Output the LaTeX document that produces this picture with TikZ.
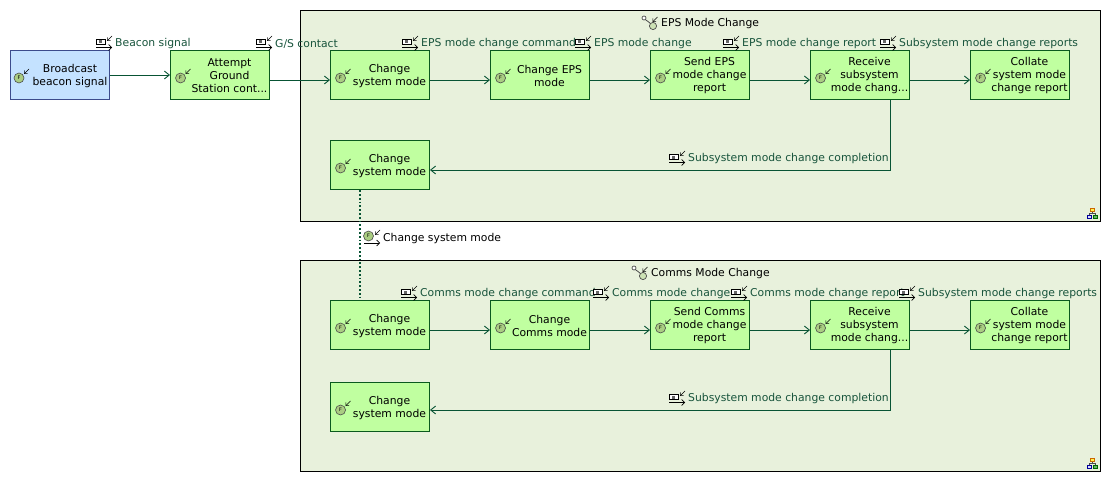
\documentclass[tikz,border=0pt]{standalone}
\usepackage{fontspec}
\setmainfont{DejaVu Sans}
\usepackage{tikz}
\usetikzlibrary{arrows.meta, calc}

\definecolor{flowgreen}{RGB}{8,84,52}
\definecolor{labelgreen}{RGB}{24,84,60}
\definecolor{boxgreen}{RGB}{192,255,160}
\definecolor{boxline}{RGB}{10,90,30}
\definecolor{boxblue}{RGB}{196,226,255}
\definecolor{blueline}{RGB}{60,76,140}
\definecolor{regionfill}{RGB}{232,241,220}
\definecolor{iconfill}{RGB}{170,205,130}

\tikzset{
    smalltip/.style={-{Straight Barb[length=2.4pt,width=4.4pt]}},
    fnbox/.style={draw=boxline, fill=boxgreen, line width=0.9pt, minimum width=99pt, minimum height=49.5pt, inner sep=0pt},
    blueboxstyle/.style={fnbox, draw=blueline, fill=boxblue},
    boxtext/.style={align=center, inner sep=0pt, font=\fontsize{10.8}{13}\selectfont},
    region/.style={draw=black, fill=regionfill, line width=0.9pt, minimum width=800pt, minimum height=211pt, inner sep=0pt},
    exlabel/.style={anchor=west, inner sep=0pt, yshift=-1.5pt, text=labelgreen, font=\fontsize{10.8}{13}\selectfont},
    blacklabel/.style={anchor=west, inner sep=0pt, yshift=-1.5pt, font=\fontsize{10.8}{13}\selectfont},
    flow/.style={-{Straight Barb[length=5pt,width=8pt]}, draw=flowgreen, line width=0.9pt},
    fnicon/.pic={
        \draw[black!70, fill=iconfill, line width=0.6pt] (0,0) circle (5);
        \node[inner sep=0pt, font=\fontsize{5}{5}\selectfont] at (0,0) {F};
        \draw[smalltip, black, line width=0.5pt] (10,-9) -- (5,-4);
    },
    exicon/.pic={
        \draw[black, fill=white, line width=0.6pt] (0,-2.5) rectangle (9,2.5);
        \fill[black!60] (3,-1.5) rectangle (6,1.5);
        \draw[smalltip, black, line width=0.5pt] (16,-6) -- (11,-1);
        \draw[-{Straight Barb[length=3pt,width=6pt]}, black, line width=0.6pt] (0,5.5) -- (16,5.5);
    },
    fxicon/.pic={
        \draw[black!70, fill=iconfill, line width=0.6pt] (4.5,-1) circle (5);
        \node[inner sep=0pt, font=\fontsize{5}{5}\selectfont] at (4.5,-1) {F};
        \draw[smalltip, black, line width=0.5pt] (16,-7) -- (11,-2);
        \draw[-{Straight Barb[length=3pt,width=6pt]}, black, line width=0.6pt] (0,6) -- (16,6);
    },
    scicon/.pic={
        \draw[black!70, line width=0.8pt] (2,1) .. controls (5,5) and (7,4) .. (9,7);
        \draw[black!70, fill=white, line width=0.7pt] (2,1) circle (2);
        \draw[black!70, fill=iconfill!60, line width=0.7pt] (11,9) circle (3.6);
        \draw[smalltip, black, line width=0.5pt] (15.5,0) -- (10.5,5);
    },
    treeicon/.pic={
        \draw[black!70, line width=0.5pt] (5.5,3) -- (5.5,5.5) (2.5,7) -- (2.5,5.5) -- (8.5,5.5) -- (8.5,7);
        \draw[orange!80!black, fill=yellow!70, line width=0.6pt] (3.5,0) rectangle (7.5,3);
        \draw[blue!60!black, fill=blue!15, line width=0.6pt] (0.5,7) rectangle (4.5,10);
        \draw[green!40!black, fill=green!50!black!60, line width=0.6pt] (6.5,7) rectangle (10.5,10);
    },
}

\begin{document}
\begin{tikzpicture}[x=1pt, y=-1pt]
    \useasboundingbox (0,0) rectangle (1113,484);

    \node[region] (epsregion) at (700.5,116) {};
    \node[region] (commsregion) at (700.5,366) {};

    % titles of the two regions
    \pic at (642,17) {scicon};
    \node[blacklabel] (epstitle) at (661,22) {EPS Mode Change};
    \pic at (632,267) {scicon};
    \node[blacklabel] (commstitle) at (651,272) {Comms Mode Change};
    \pic at (1087,208) {treeicon};
    \pic at (1087,458) {treeicon};

    % function boxes
    \node[blueboxstyle] (broadcast) at (60,75) {};
    \node[boxtext] (broadcasttext) at (70,76) {Broadcast\\beacon signal};
    \pic at (19,78) {fnicon};

    \foreach \nm/\x/\y/\txt in {
        attempt/220/75/{Attempt\\Ground\\Station cont...},
        epsstart/380/75/{Change\\system mode},
        epschange/540/75/{Change EPS\\mode},
        epssend/700/75/{Send EPS\\mode change\\report},
        epsreceive/860/75/{Receive\\subsystem\\mode chang...},
        epscollate/1020/75/{Collate\\system mode\\change report},
        epsend/380/165/{Change\\system mode},
        commsstart/380/325/{Change\\system mode},
        commschange/540/325/{Change\\Comms mode},
        commssend/700/325/{Send Comms\\mode change\\report},
        commsreceive/860/325/{Receive\\subsystem\\mode chang...},
        commscollate/1020/325/{Collate\\system mode\\change report},
        commsend/380/407/{Change\\system mode}}
    {
        \node[fnbox] (\nm) at (\x,\y) {};
        \node[boxtext] (\nm text) at ($(\nm.center)+(9.5,1)$) {\txt};
        \pic at ($(\nm.west)+(10.5,3)$) {fnicon};
    }

    % connectors
    \draw[flow] (broadcast) -- (attempt);
    \draw[flow] ([yshift=-5pt]attempt.east) -- ([yshift=-5pt]epsstart.west);
    \draw[flow] ([yshift=-5pt]epsstart.east) -- ([yshift=-5pt]epschange.west);
    \draw[flow] ([yshift=-5pt]epschange.east) -- ([yshift=-5pt]epssend.west);
    \draw[flow] ([yshift=-5pt]epssend.east) -- ([yshift=-5pt]epsreceive.west);
    \draw[flow] ([yshift=-5pt]epsreceive.east) -- ([yshift=-5pt]epscollate.west);
    \draw[flow] ([xshift=30pt]epsreceive.south) |- ([yshift=-5pt]epsend.east);
    \draw[flow] ([yshift=-5pt]commsstart.east) -- ([yshift=-5pt]commschange.west);
    \draw[flow] ([yshift=-5pt]commschange.east) -- ([yshift=-5pt]commssend.west);
    \draw[flow] ([yshift=-5pt]commssend.east) -- ([yshift=-5pt]commsreceive.west);
    \draw[flow] ([yshift=-5pt]commsreceive.east) -- ([yshift=-5pt]commscollate.west);
    \draw[flow] ([xshift=30pt]commsreceive.south) |- ([yshift=-3pt]commsend.east);
    \draw[draw=flowgreen, line width=1.8pt, dotted] ([xshift=-20pt]epsend.south) -- ([xshift=-20pt]commsstart.north);

    % exchange labels
    \foreach \nm/\x/\y/\txt in {
        beaconlabel/115/42/Beacon signal,
        contactlabel/275/42/{G/S contact},
        epscmdlabel/421/42/EPS mode change command,
        epschglabel/594/42/EPS mode change,
        epsreplabel/742/42/EPS mode change report,
        epssublabel/899/42/Subsystem mode change reports,
        epsdonelabel/688/157/Subsystem mode change completion,
        commscmdlabel/420/292/Comms mode change command,
        commschglabel/612/292/Comms mode change,
        commsreplabel/750/292/Comms mode change report,
        commssublabel/918/292/Subsystem mode change reports,
        commsdonelabel/688/397/Subsystem mode change completion}
    {
        \pic at (\x-19,\y) {exicon};
        \node[exlabel] (\nm) at (\x,\y) {\txt};
    }

    \pic at (364,237) {fxicon};
    \node[blacklabel] (fnlabel) at (383,237) {Change system mode};
\end{tikzpicture}
\end{document}
